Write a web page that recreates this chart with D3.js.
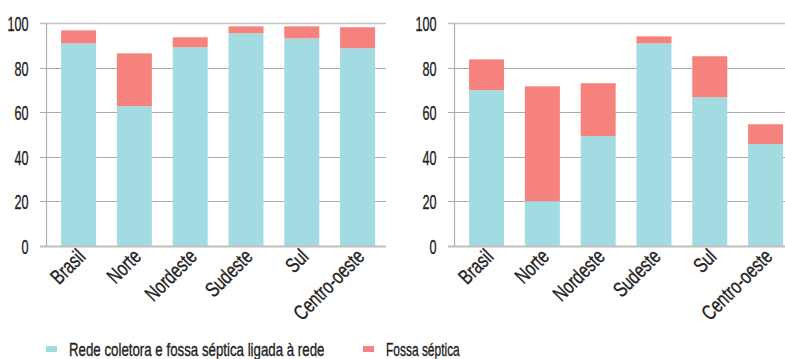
<!DOCTYPE html>
<html>
<head>
<meta charset="utf-8">
<script src="https://cdn.jsdelivr.net/npm/d3@7"></script>
<style>
  body { margin: 0; background: #fff; }
  text { font-family: "Liberation Sans", Arial, sans-serif; fill: #222; stroke: #222; stroke-width: 0.35px; }
</style>
</head>
<body>
<script>
const WIDTH = 785;
const HEIGHT = 359;
const SQUEEZE = 0.74; // fonte condensada

var regions = ['Brasil', 'Norte', 'Nordeste', 'Sudeste', 'Sul', 'Centro-oeste'];
var yTicks = [0, 20, 40, 60, 80, 100];
var seriesNames = ['Rede coletora e fossa séptica ligada à rede', 'Fossa séptica'];

// painel esquerdo
var redeLeft = [90.9, 62.7, 89.1, 95.4, 93.1, 88.7];
var fossaLeft = [5.8, 23.7, 4.5, 3.1, 5.4, 9.4];
// painel direito
var redeRight = [69.9, 20.1, 49.3, 90.9, 66.7, 45.7];
var fossaRight = [13.8, 51.5, 23.7, 3.1, 18.4, 8.9];

var colors = ['#a3dbe3', '#f5827c'];

var svg = d3.select('body').append('svg')
    .attr('width', WIDTH)
    .attr('height', HEIGHT);

var yScale = d3.scaleLinear()
    .domain([0, 100])
    .range([246, 23]);

var drawPanel = function (x0, rede, fossa) {
    var xScale = d3.scaleBand()
        .domain(regions)
        .range([x0, x0 + 340])
        .paddingInner(0.373)
        .paddingOuter(0.233)
        .align(0.58);

    var g = svg.append('g');

    // grade
    g.selectAll('line.grid')
        .data(yTicks.slice(1))
        .enter().append('line')
        .attr('x1', x0 - 6)
        .attr('x2', x0 + 340)
        .attr('y1', function (d) { return Math.round(yScale(d)) + 0.5; })
        .attr('y2', function (d) { return Math.round(yScale(d)) + 0.5; })
        .attr('stroke', function (d) { return d === 100 ? '#c4c4c4' : '#ababab'; })
        .attr('stroke-width', function (d) { return d === 100 ? 1.6 : 1.2; });

    var data = regions.map(function (r, i) {
        return { region: r, rede: rede[i], fossa: fossa[i] };
    });
    var stacked = d3.stack().keys(['rede', 'fossa'])(data);

    g.selectAll('g.series')
        .data(stacked)
        .enter().append('g')
        .attr('fill', function (d, i) { return colors[i]; })
        .selectAll('rect')
        .data(function (d) { return d; })
        .enter().append('rect')
        .attr('x', function (d) { return xScale(d.data.region); })
        .attr('width', xScale.bandwidth())
        .attr('y', function (d) { return yScale(d[1]); })
        .attr('height', function (d) { return yScale(d[0]) - yScale(d[1]); });

    // eixo y
    var yAxis = d3.axisLeft(yScale).tickValues(yTicks).tickSize(0).tickFormat('');
    var ya = g.append('g')
        .attr('transform', 'translate(' + (x0 + 0.5) + ',0)')
        .call(yAxis);
    ya.select('.domain')
        .attr('stroke', '#b0b0b0')
        .attr('stroke-width', 1.2)
        .attr('d', 'M0,' + yScale(100) + 'V' + (yScale(0) + 1));
    ya.selectAll('.tick').append('text')
        .attr('text-anchor', 'end')
        .attr('font-size', 21)
        .attr('dy', '0.36em')
        .attr('transform', 'translate(-18,0) scale(0.6,1)')
        .text(function (d) { return d; });

    // linha base
    g.append('line')
        .attr('x1', x0 - 6)
        .attr('x2', x0 + 340)
        .attr('y1', yScale(0) + 0.5)
        .attr('y2', yScale(0) + 0.5)
        .attr('stroke', '#c0c0c0')
        .attr('stroke-width', 2);

    // rotulos x
    g.selectAll('text.xlab')
        .data(regions)
        .enter().append('text')
        .attr('class', 'xlab')
        .attr('text-anchor', 'end')
        .attr('font-size', 21)
        .attr('transform', function (d) {
            var cx = xScale(d) + xScale.bandwidth() / 2 + 8;
            return 'translate(' + cx + ',258) rotate(-45) scale(' + SQUEEZE + ',1)';
        })
        .text(function (d) { return d; });
};

drawPanel(46, redeLeft, fossaLeft);
drawPanel(454, redeRight, fossaRight);

// legenda
var legendX = [46, 363];
var legendScale = [0.70, 0.63];
var legend = svg.selectAll('g.legend')
    .data(seriesNames)
    .enter().append('g')
    .attr('transform', function (d, i) { return 'translate(' + legendX[i] + ',346)'; });
legend.append('rect')
    .attr('width', 11)
    .attr('height', 6)
    .attr('fill', function (d, i) { return colors[i]; });
legend.append('text')
    .attr('font-size', 19)
    .attr('transform', function (d, i) { return 'translate(23,10) scale(' + legendScale[i] + ',1)'; })
    .text(function (d) { return d; });
</script>
</body>
</html>
